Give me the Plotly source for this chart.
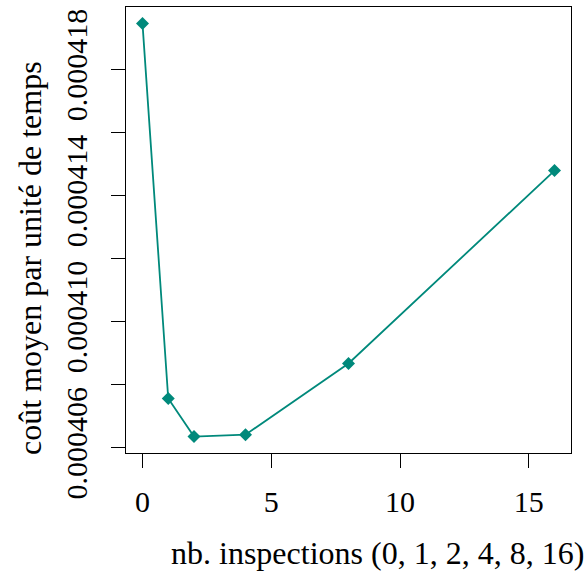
import plotly.graph_objects as go

inspections = [0, 1, 2, 4, 8, 16]
cout_moyen = [0.00041946, 0.00040756, 0.00040635, 0.00040641, 0.00040867, 0.00041479]

x_ticks = [0, 5, 10, 15]
y_ticks = [0.000406, 0.000408, 0.000410, 0.000412, 0.000414, 0.000416, 0.000418]
y_ticklabels = ["0.000406", "", "0.000410", "", "0.000414", "", "0.000418"]

x_title = "nb. inspections (0, 1, 2, 4, 8, 16)"
y_title = "coût moyen par unité de temps"

FONT = "Liberation Serif"
color = "#00897B"

L, R, T, B = 126, 13, 7, 123
W, H = 584, 576
PW, PH = W - L - R, H - T - B

fig = go.Figure()
fig.add_trace(go.Scatter(
    x=inspections, y=cout_moyen, mode="lines+markers",
    line=dict(color=color, width=1.8),
    marker=dict(symbol="diamond", size=10, color=color),
    showlegend=False, hoverinfo="skip",
))

fig.update_layout(
    width=W, height=H,
    margin=dict(l=L, r=R, t=T, b=B),
    paper_bgcolor="white", plot_bgcolor="white",
    font=dict(family=FONT, size=30, color="black"),
)
fig.update_xaxes(
    range=[-0.64, 16.64], tickvals=x_ticks, ticktext=[str(v) for v in x_ticks],
    showgrid=False, zeroline=False, showline=True, linecolor="black", linewidth=1,
    mirror=True, ticks="outside", ticklen=14, tickcolor="black", tickwidth=1,
    ticklabelstandoff=8,
)
fig.update_yaxes(
    range=[0.00040583, 0.00041998], tickvals=y_ticks, ticktext=y_ticklabels,
    tickangle=-90,
    showgrid=False, zeroline=False, showline=True, linecolor="black", linewidth=1,
    mirror=True, ticks="outside", ticklen=14, tickcolor="black", tickwidth=1,
    ticklabelstandoff=12,
)
fig.add_annotation(text=x_title, xref="paper", yref="paper", x=(377 - L) / PW, y=0,
                   xanchor="center", yanchor="middle", showarrow=False,
                   yshift=-(553 - (H - B)), font=dict(family=FONT, size=32))
fig.add_annotation(text=y_title, xref="paper", yref="paper", x=0, y=((H - B) - 258) / PH,
                   xanchor="center", yanchor="middle", textangle=-90, showarrow=False,
                   xshift=-(L - 30), font=dict(family=FONT, size=32))

fig.write_html("out.html", config={"displayModeBar": False},
               post_script="document.body.style.margin='0';document.body.style.padding='0';")
